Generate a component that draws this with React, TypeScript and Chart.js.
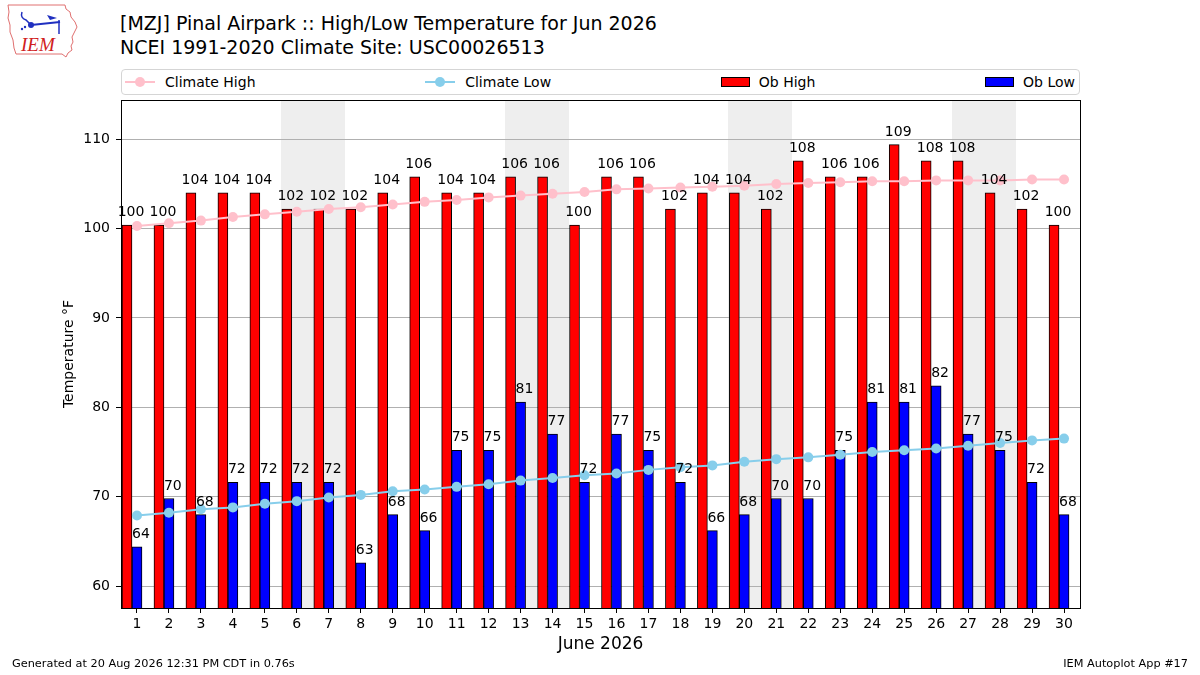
import { useEffect, useRef } from "react";
import { Chart, registerables } from "chart.js";

Chart.register(...registerables);

// June 2026 daily values, deg F
const days = [
  1, 2, 3, 4, 5, 6, 7, 8, 9, 10, 11, 12, 13, 14, 15, 16, 17, 18, 19, 20, 21, 22, 23, 24, 25, 26, 27, 28, 29, 30,
];
const obHigh = [
  100.4, 100.4, 104, 104, 104, 102.2, 102.2, 102.2, 104, 105.8, 104, 104, 105.8, 105.8, 100.4, 105.8, 105.8, 102.2,
  104, 104, 102.2, 107.6, 105.8, 105.8, 109.4, 107.6, 107.6, 104, 102.2, 100.4,
];
const obLow = [
  64.4, 69.8, 68, 71.6, 71.6, 71.6, 71.6, 62.6, 68, 66.2, 75.2, 75.2, 80.6, 77, 71.6, 77, 75.2, 71.6, 66.2, 68, 69.8,
  69.8, 75.2, 80.6, 80.6, 82.4, 77, 75.2, 71.6, 68,
];
const climateHigh = [
  100.3, 100.6, 100.9, 101.3, 101.6, 101.9, 102.2, 102.4, 102.7, 103.0, 103.2, 103.5, 103.7, 103.9, 104.1, 104.4,
  104.5, 104.6, 104.7, 104.8, 105.0, 105.1, 105.2, 105.3, 105.3, 105.4, 105.4, 105.4, 105.5, 105.5,
];
const climateLow = [
  67.9, 68.2, 68.6, 68.8, 69.2, 69.5, 69.9, 70.2, 70.6, 70.8, 71.1, 71.4, 71.8, 72.1, 72.4, 72.6, 73.0, 73.3, 73.5,
  73.9, 74.2, 74.4, 74.7, 75.0, 75.2, 75.4, 75.7, 76.0, 76.3, 76.5,
];
const weekendDays = [6, 7, 13, 14, 20, 21, 27, 28];
const yTicks = [60, 70, 80, 90, 100, 110];

// high bar sits just left of the day tick, low bar on the tick
const HIGH_SHIFT = -0.3125;

const FONT = "'DejaVu Sans', sans-serif";

const weekendShade = {
  id: "weekendShade",
  beforeDraw(chart: any) {
    const { ctx, chartArea, scales } = chart;
    ctx.save();
    ctx.fillStyle = "#eeeeee";
    weekendDays.forEach((d) => {
      const x0 = Math.round(scales.x.getPixelForValue(d - 0.5));
      const x1 = Math.round(scales.x.getPixelForValue(d + 0.5));
      ctx.fillRect(x0, chartArea.top, x1 - x0, chartArea.bottom - chartArea.top);
    });
    ctx.restore();
  },
};

const barLabels = {
  id: "barLabels",
  afterDatasetsDraw(chart: any) {
    const { ctx, chartArea, scales } = chart;
    ctx.save();
    ctx.font = "14px " + FONT;
    ctx.fillStyle = "#000";
    ctx.textBaseline = "alphabetic";
    const hi = chart.getDatasetMeta(2);
    const lo = chart.getDatasetMeta(3);
    ctx.textAlign = "center";
    hi.data.forEach((bar: any, i: number) => {
      ctx.fillText(String(Math.round(obHigh[i])), bar.x + 4, scales.y.getPixelForValue(obHigh[i] + 1));
    });
    ctx.textAlign = "left";
    lo.data.forEach((bar: any, i: number) => {
      ctx.fillText(String(Math.round(obLow[i])), bar.x - bar.width / 2, scales.y.getPixelForValue(obLow[i] + 1));
    });
    // axes frame
    ctx.strokeStyle = "#000";
    ctx.lineWidth = 1;
    ctx.strokeRect(
      Math.round(chartArea.left) + 0.5,
      Math.round(chartArea.top) + 0.5,
      Math.round(chartArea.right - chartArea.left),
      Math.round(chartArea.bottom - chartArea.top)
    );
    ctx.restore();
  },
};

function Logo() {
  return (
    <svg width={100} height={65} style={{ position: "absolute", left: 0, top: 0 }}>
      <path
        d="M8,5 L65,5 L66,9 L70,12 L71,17 L75,22 L77,27 L74,33 L72,37 L73,42 L71,46 L72,50 L68,53 L66,57 L62,54 L16,54 L14,48 L13,40 L10,32 L10,25 L8,18 L9,12 Z"
        fill="#fff"
        stroke="#e07070"
        strokeWidth={1}
      />
      <path d="M22,12 Q20,18 26,20 L30,24" fill="none" stroke="#2030c0" strokeWidth={1.5} />
      <circle cx={31} cy={25} r={3} fill="#2030c0" />
      <line x1={31} y1={25} x2={60} y2={22} stroke="#2030c0" strokeWidth={2} />
      <path d="M47,15 L57,18 L50,20 Z" fill="#2030c0" />
      <line x1={59} y1={20} x2={59} y2={34} stroke="#2030c0" strokeWidth={1.5} />
      <circle cx={25} cy={27} r={1.2} fill="#2030c0" />
      <circle cx={22} cy={29} r={1.2} fill="#2030c0" />
      <text x={21} y={51} fontFamily="'Liberation Serif', serif" fontStyle="italic" fontSize={19} fill="#d02020">
        IEM
      </text>
    </svg>
  );
}

function LineKey({ color }: { color: string }) {
  return (
    <svg width={30} height={12}>
      <line x1={0} y1={6} x2={30} y2={6} stroke={color} strokeWidth={2} />
      <circle cx={15} cy={6} r={5} fill={color} />
    </svg>
  );
}

function RectKey({ color }: { color: string }) {
  return <div style={{ width: 29, height: 10, background: color, border: "1px solid #000", boxSizing: "border-box" }} />;
}

export default function App() {
  const chartRef = useRef<HTMLCanvasElement>(null);
  const chartInstance = useRef<Chart | null>(null);

  useEffect(() => {
    document.body.style.margin = "0";
    if (!chartRef.current) return;
    const ctx = chartRef.current.getContext("2d");
    if (!ctx) return;

    if (chartInstance.current) {
      chartInstance.current.destroy();
    }

    Chart.defaults.font.family = FONT;
    Chart.defaults.color = "#000";

    chartInstance.current = new Chart(ctx, {
      type: "bar",
      data: {
        datasets: [
          {
            type: "line",
            label: "Climate High",
            data: days.map((d, i) => ({ x: d, y: climateHigh[i] })),
            borderColor: "#ffc0cb",
            backgroundColor: "#ffc0cb",
            borderWidth: 2,
            pointRadius: 5,
            pointHoverRadius: 5,
            pointBorderWidth: 0,
            order: 0,
          },
          {
            type: "line",
            label: "Climate Low",
            data: days.map((d, i) => ({ x: d, y: climateLow[i] })),
            borderColor: "#87ceeb",
            backgroundColor: "#87ceeb",
            borderWidth: 2,
            pointRadius: 5,
            pointHoverRadius: 5,
            pointBorderWidth: 0,
            order: 0,
          },
          {
            label: "Ob High",
            data: days.map((d, i) => ({ x: d + HIGH_SHIFT, y: obHigh[i] })),
            backgroundColor: "#ff0000",
            borderColor: "#000",
            borderWidth: 1,
            grouped: false,
            categoryPercentage: 1,
            barPercentage: 1,
            order: 1,
          },
          {
            label: "Ob Low",
            data: days.map((d, i) => ({ x: d, y: obLow[i] })),
            backgroundColor: "#0000ff",
            borderColor: "#000",
            borderWidth: 1,
            grouped: false,
            categoryPercentage: 1,
            barPercentage: 1,
            order: 1,
          },
        ] as any,
      },
      options: {
        animation: false,
        responsive: true,
        maintainAspectRatio: false,
        layout: { padding: { top: 100, right: 120, left: 0, bottom: 0 } },
        plugins: {
          legend: { display: false },
          tooltip: { enabled: false },
          title: { display: false },
        },
        scales: {
          x: {
            type: "linear",
            min: 0.5,
            max: 30.5,
            offset: false,
            afterFit: (s: any) => {
              s.height = 67;
            },
            afterBuildTicks: (s: any) => {
              s.ticks = days.map((d) => ({ value: d }));
            },
            ticks: {
              color: "#000",
              font: { size: 14 },
              padding: 3,
              autoSkip: false,
              maxRotation: 0,
              callback: (v: any) => String(v),
            },
            grid: { drawOnChartArea: false, offset: false, tickLength: 5, tickColor: "#000" },
            border: { color: "#000" },
            title: {
              display: true,
              text: "June 2026",
              color: "#000",
              font: { size: 17 },
              padding: { top: 0, bottom: 20 },
            },
          },
          y: {
            type: "linear",
            min: 57.54,
            max: 114.4,
            afterFit: (s: any) => {
              s.width = 121;
            },
            afterBuildTicks: (s: any) => {
              s.ticks = yTicks.map((v) => ({ value: v }));
            },
            ticks: { color: "#000", font: { size: 14 }, padding: 6 },
            grid: { color: "#b0b0b0", tickColor: "#000", tickLength: 5 },
            border: { color: "#000" },
            title: {
              display: true,
              text: "Temperature °F",
              color: "#000",
              font: { size: 14 },
              padding: { top: 61, bottom: 0 },
            },
          },
        },
      } as any,
      plugins: [weekendShade, barLabels],
    });

    return () => {
      if (chartInstance.current) {
        chartInstance.current.destroy();
        chartInstance.current = null;
      }
    };
  }, []);

  return (
    <div
      style={{
        position: "relative",
        width: 1200,
        height: 675,
        fontFamily: FONT,
        color: "#000",
        background: "#fff",
        overflow: "hidden",
      }}
    >
      <Logo />
      <div style={{ position: "absolute", left: 120, top: 11, fontSize: 19, lineHeight: "24px", whiteSpace: "nowrap" }}>
        <div>[MZJ] Pinal Airpark :: High/Low Temperature for Jun 2026</div>
        <div>NCEI 1991-2020 Climate Site: USC00026513</div>
      </div>
      <div style={{ position: "absolute", left: 0, top: 0, width: 1200, height: 675 }}>
        <canvas ref={chartRef}></canvas>
      </div>

      {/* Legend */}
      <div
        style={{
          position: "absolute",
          left: 121,
          top: 69,
          width: 959,
          height: 26,
          boxSizing: "border-box",
          border: "1px solid #d5d5d5",
          borderRadius: 4,
          display: "flex",
          justifyContent: "space-between",
          alignItems: "center",
          padding: "0 4px 0 3px",
          fontSize: 14,
          background: "#fff",
        }}
      >
        <div style={{ display: "flex", alignItems: "center", gap: 10 }}>
          <LineKey color="#ffc0cb" />
          <span>Climate High</span>
        </div>
        <div style={{ display: "flex", alignItems: "center", gap: 10 }}>
          <LineKey color="#87ceeb" />
          <span>Climate Low</span>
        </div>
        <div style={{ display: "flex", alignItems: "center", gap: 9 }}>
          <RectKey color="#ff0000" />
          <span>Ob High</span>
        </div>
        <div style={{ display: "flex", alignItems: "center", gap: 9 }}>
          <RectKey color="#0000ff" />
          <span>Ob Low</span>
        </div>
      </div>

      <div style={{ position: "absolute", left: 12, top: 657, fontSize: 11.3, whiteSpace: "nowrap" }}>
        Generated at 20 Aug 2026 12:31 PM CDT in 0.76s
      </div>
      <div style={{ position: "absolute", right: 12, top: 657, fontSize: 11.3, whiteSpace: "nowrap" }}>
        IEM Autoplot App #17
      </div>
    </div>
  );
}
